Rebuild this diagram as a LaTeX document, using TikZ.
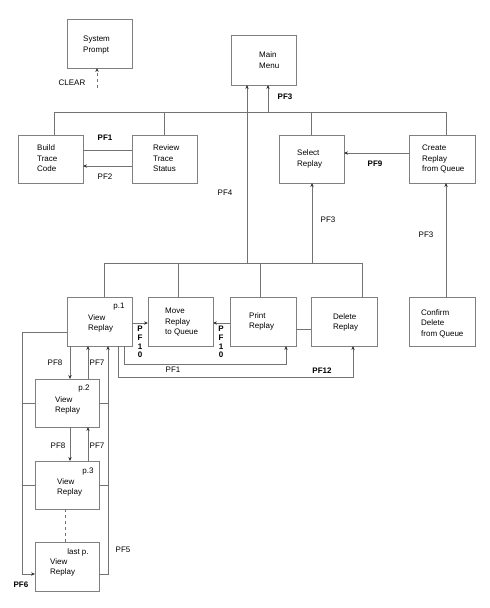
\documentclass[tikz,border=0pt]{standalone}
\usepackage{fontspec}
\setmainfont{Liberation Sans}
\usetikzlibrary{arrows.meta,calc}
\begin{document}
\begin{tikzpicture}[x=1pt,y=-1pt,
  box/.style={draw=black!50,line width=0.8pt,minimum width=65pt,minimum height=48pt,inner sep=0pt,outer sep=0pt},
  txt/.style={anchor=north west,inner sep=0pt,align=left,font=\fontsize{8}{10.5}\selectfont},
  lbl/.style={inner sep=0pt,font=\fontsize{8}{9.6}\selectfont},
  blbl/.style={inner sep=0pt,font=\fontsize{8}{9.6}\selectfont\bfseries},
  vlbl/.style={anchor=north,inner sep=0pt,align=center,font=\fontsize{8}{8.7}\selectfont\bfseries},
  line/.style={draw=black!55,line width=0.7pt},
  arr/.style={line,-{Stealth[length=4pt,width=3.4pt,color=black!80]}}]
\useasboundingbox (0,0) rectangle (490,608);

% boxes
\node[box,minimum height=49pt] (sys) at (99.5,43.5) {};
\node[box,minimum height=50pt] (main) at (263.5,60) {};
\node[box] (build) at (50.5,159) {};
\node[box] (review) at (164.5,159) {};
\node[box] (select) at (311.5,159) {};
\node[box,minimum width=66pt] (create) at (442,159) {};
\node[box,minimum height=49pt] (v1) at (99.5,321.5) {};
\node[box,minimum height=49pt] (move) at (180.5,321.5) {};
\node[box,minimum height=49pt,minimum width=66pt] (print) at (263,321.5) {};
\node[box,minimum height=49pt,minimum width=66pt] (delete) at (344,321.5) {};
\node[box,minimum height=49pt,minimum width=66pt] (confirm) at (442,321.5) {};
\node[box,minimum width=64pt] (v2) at (67,403) {};
\node[box,minimum width=64pt] (v3) at (67,485) {};
\node[box,minimum width=64pt,minimum height=49pt] (vl) at (67,566.5) {};

% box texts
\node[txt] (tsys) at (83,36) {System\\Prompt};
\node[txt] (tmain) at (259,52) {Main\\Menu};
\node[txt] (tbuild) at (37,145) {Build\\Trace\\Code};
\node[txt] (treview) at (153,145) {Review\\Trace\\Status};
\node[txt] (tselect) at (297,150) {Select\\Replay};
\node[txt] (tcreate) at (422,145) {Create\\Replay\\from Queue};
\node[txt] (tv1) at (88,314) {View\\Replay};
\node[txt] (tmove) at (165,308) {Move\\Replay\\to Queue};
\node[txt] (tprint) at (249,312) {Print\\Replay};
\node[txt] (tdelete) at (333,313) {Delete\\Replay};
\node[txt] (tconfirm) at (421,309) {Confirm\\Delete\\from Queue};
\node[txt] (tv2) at (55,396) {View\\Replay};
\node[txt] (tv3) at (57,478) {View\\Replay};
\node[txt] (tvl) at (50,558) {View\\Replay};
\node[lbl] (p1) at (119,307) {p.1};
\node[lbl] (p2) at (84,389) {p.2};
\node[lbl] (p3) at (88,472) {p.3};
\node[lbl] (pl) at (78,552) {last p.};

% CLEAR
\coordinate (clr) at (97,88);
\draw[arr,dashed] (clr) -- (clr |- sys.south);
\node[lbl] (lclear) at (72,83) {CLEAR};

% top bus
\coordinate (busL) at (54,112);
\coordinate (busR) at (446,112);
\coordinate (m3) at (268,112);
\draw[line] (busL) -- (busR);
\draw[line] (busL) -- (busL |- build.north);
\draw[line] (review.north |- busL) -- (review.north);
\draw[line] (select.north |- busL) -- (select.north);
\draw[line] (busR) -- (busR |- create.north);
\draw[arr] (m3) -- (m3 |- main.south);
\node[blbl] (lpf3a) at (285,97) {PF3};

% build / review
\draw[line] ([yshift=9pt]review.west) -- ([yshift=9pt]build.east);
\draw[arr] ([yshift=-7pt]review.west) -- ([yshift=-7pt]build.east);
\node[blbl] (lpf1a) at (105,138) {PF1};
\node[lbl] (lpf2) at (105,177) {PF2};

% create -> select
\draw[arr] ([yshift=6pt]create.west) -- ([yshift=6pt]select.east);
\node[blbl] (lpf9) at (375,164) {PF9};

% confirm -> create
\draw[arr] ([xshift=4pt]confirm.north) -- ([xshift=4pt]create.south);
\node[lbl] (lpf3c) at (426,235) {PF3};

% lower bus
\coordinate (lbL) at (104,263);
\coordinate (lbR) at (362,263);
\coordinate (m4) at (247,263);
\coordinate (s3) at (312,263);
\draw[line] (lbL) -- (lbR);
\draw[line] (lbL) -- (lbL |- v1.north);
\draw[line] (178,263) coordinate (lbm) -- (lbm |- move.north);
\draw[line] (260,263) coordinate (lbp) -- (lbp |- print.north);
\draw[line] (lbR) -- (lbR |- delete.north);
\draw[arr] (m4) -- (m4 |- main.south);
\draw[arr] (s3) -- (s3 |- select.south);
\node[lbl] (lpf4) at (225,193) {PF4};
\node[lbl] (lpf3b) at (328,220) {PF3};

% row of replay boxes
\draw[arr] ([yshift=-1.5pt]v1.east) -- ([yshift=-1.5pt]move.west);
\draw[arr] ([yshift=-1.5pt]print.west) -- ([yshift=-1.5pt]move.east);
\draw[line] ([yshift=-7.5pt]print.east) -- ([yshift=-7.5pt]delete.west);
\node[vlbl] (lpf10a) at (140,326) {P\\F\\1\\0};
\node[vlbl] (lpf10b) at (221,326) {P\\F\\1\\0};

% PF1 / PF12
\draw[arr] ([xshift=24.5pt]v1.south) -- ++(0,18) -| ([xshift=23pt]print.south);
\draw[arr] ([xshift=18.5pt]v1.south) -- ++(0,31) -| ([xshift=9pt]delete.south);
\node[lbl] (lpf1b) at (173,370) {PF1};
\node[blbl] (lpf12) at (322,371) {PF12};

% page navigation
\draw[arr] ([xshift=3pt]v2.north |- v1.south) -- ([xshift=3pt]v2.north);
\draw[arr] ([xshift=21pt]v2.north) -- ([xshift=21pt]v2.north |- v1.south);
\draw[arr] ([xshift=3pt]v3.north |- v2.south) -- ([xshift=3pt]v3.north);
\draw[arr] ([xshift=21pt]v3.north) -- ([xshift=21pt]v3.north |- v2.south);
\node[lbl] (lpf8a) at (55,363) {PF8};
\node[lbl] (lpf7a) at (97,363) {PF7};
\node[lbl] (lpf8b) at (58,446) {PF8};
\node[lbl] (lpf7b) at (97,446) {PF7};
\draw[line,dashed] ([xshift=-2pt]v3.south) -- ([xshift=-2pt]vl.north);

% PF5 (right rail)
\coordinate (r5) at (108,574);
\draw[arr] ([yshift=-7.5pt]vl.east) -| (r5 |- v1.south);
\draw[line] (v2.east) -- (v2.east -| r5);
\draw[line] (v3.east) -- (v3.east -| r5);
\node[lbl] (lpf5) at (123,550) {PF5};

% PF6 (left rail)
\coordinate (l6) at (22,574);
\coordinate (vlw) at ([yshift=-7.5pt]vl.west);
\draw[arr] ([yshift=-10.5pt]v1.west) -| (l6) -- (vlw);
\draw[line] (v2.west) -- (v2.west -| l6);
\draw[line] (v3.west) -- (v3.west -| l6);
\node[blbl] (lpf6) at (21,585) {PF6};
\end{tikzpicture}
\end{document}
